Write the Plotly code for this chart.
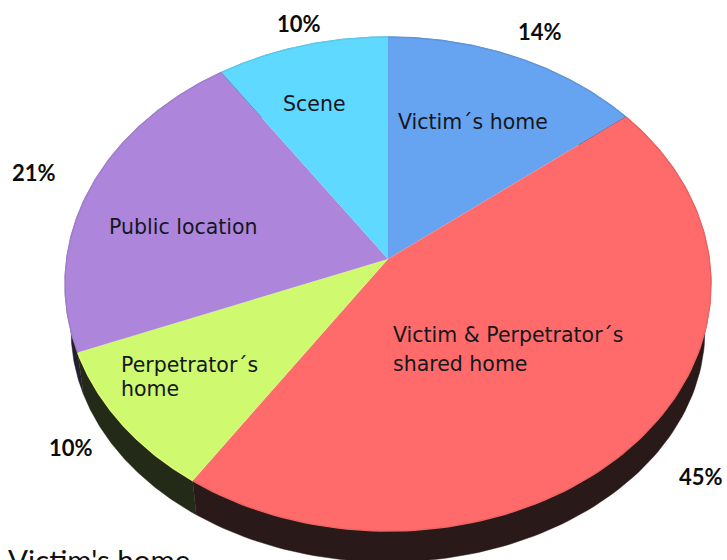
import numpy as np
import plotly.graph_objects as go

# Data (clockwise from 12 o'clock)
categories = ["Victim´s home", "Victim & Perpetrator´s<br>shared home", "Perpetrator´s<br>home", "Public location", "Scene"]
shares = [14.4, 45.0, 9.6, 21.5, 9.5]
pct_labels = ["14%", "45%", "10%", "21%", "10%"]
footer = "Victim's home"

# Styles
face_colors = ["#66A3F0", "#FF6B6B", "#CFF96F", "#AD86DC", "#5FD9FF"]
edge_colors = ["#5F97DE", "#EE6363", "#E2F877", "#A17DCC", "#59CBEE"]
side_colors = ["#1E2430", "#2A1919", "#232A17", "#241F2C", "#1C2A30"]

# Projection of the tilted disc onto the page (pixels)
CX, APEX_Y, AX, AY, K = 388.0, 259.0, 321.3, -218.3, 0.1012
# Face outline centre/radii and the lower rim outline
FACE_CY, FACE_RX, FACE_RY = 284.0, 323.0, 247.0
RIM_CY, RIM_RX, RIM_RY = 330.0, 317.0, 232.0


def project(theta):
    u, v = np.sin(theta), np.cos(theta)
    d = 1 + K * v
    return CX + AX * u / d, (AY * v + APEX_Y) / d


def to_rim(x, y):
    return CX + (x - CX) * RIM_RX / FACE_RX, RIM_CY + (y - FACE_CY) * RIM_RY / FACE_RY


edges = np.concatenate([[0], np.cumsum(shares)]) / np.sum(shares) * 2 * np.pi
fig = go.Figure()

# Rim first
for i in range(len(shares)):
    th = np.linspace(edges[i], edges[i + 1], 120)
    x, y = project(th)
    rx, ry = to_rim(x, y)
    px = np.concatenate([x, rx[::-1]])
    py = np.concatenate([y, ry[::-1]])
    fig.add_trace(go.Scatter(x=px, y=py, mode="lines", fill="toself", fillcolor=side_colors[i],
                             line=dict(width=0.5, color=side_colors[i]), hoverinfo="skip", showlegend=False))

# Faces
for i, name in enumerate(categories):
    th = np.linspace(edges[i], edges[i + 1], 120)
    x, y = project(th)
    px = np.concatenate([[CX], x, [CX]])
    py = np.concatenate([[APEX_Y], y, [APEX_Y]])
    fig.add_trace(go.Scatter(x=px, y=py, mode="lines", fill="toself", fillcolor=face_colors[i],
                             line=dict(width=0), name=name.replace("<br>", " "), text=pct_labels[i],
                             hoverinfo="name+text", showlegend=False))
    fig.add_trace(go.Scatter(x=x, y=y, mode="lines", line=dict(width=1.5, color=edge_colors[i]),
                             hoverinfo="skip", showlegend=False))

# Text placement (pixels)
name_pos = [(396, 122, 0), (391, 335, 29), (119, 365, 24), (107, 227, 0), (281, 104, 0)]
pct_pos = [(540, 31), (701, 476), (71, 447), (34, 172), (299, 23)]
annotations = []
for name, (tx, ty, step) in zip(categories, name_pos):
    for j, line in enumerate(name.split("<br>")):
        annotations.append(dict(x=tx, y=ty + j * step, text=line, xanchor="left", yanchor="middle", showarrow=False,
                                font=dict(family="DejaVu Sans", size=20.5, color="#15171C")))
for label, (tx, ty) in zip(pct_labels, pct_pos):
    annotations.append(dict(x=tx, y=ty, text=label, xanchor="center", yanchor="middle", showarrow=False,
                            font=dict(family="Lato", size=22, color="#0C0C0C", weight="bold")))
annotations.append(dict(x=6, y=540, text=footer, xanchor="left", yanchor="top", showarrow=False,
                        font=dict(family="Lato", size=29.5, color="#111111")))

fig.update_layout(
    width=727, height=560, margin=dict(l=0, r=0, t=0, b=0),
    paper_bgcolor="white", plot_bgcolor="white",
    xaxis=dict(range=[0, 727], visible=False, fixedrange=True),
    yaxis=dict(range=[560, 0], visible=False, fixedrange=True),
    annotations=annotations, showlegend=False,
)
fig.write_html("out.html", config={"displayModeBar": False},
               post_script="document.body.style.margin='0';document.body.style.overflow='hidden';")
